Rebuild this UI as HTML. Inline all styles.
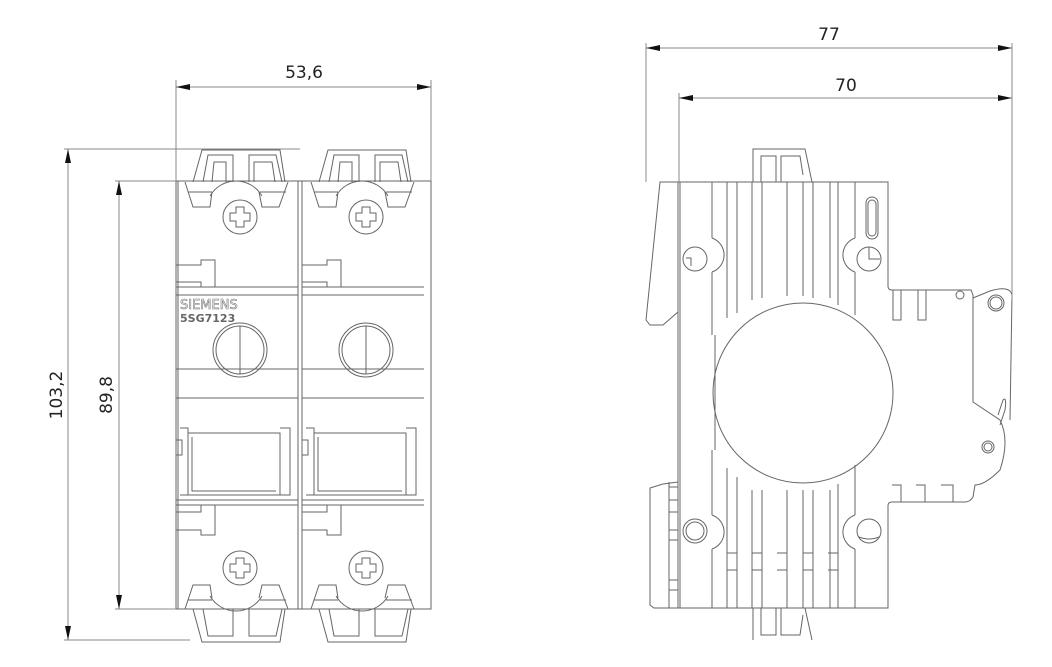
<!DOCTYPE html>
<html><head><meta charset="utf-8"><style>
html,body{margin:0;padding:0;background:#fff;}
svg{display:block;}
text{font-family:"DejaVu Sans","Liberation Sans",sans-serif;fill:#222;}
</style></head><body>
<svg width="1052" height="667" viewBox="0 0 1052 667" xmlns="http://www.w3.org/2000/svg">
<defs>
<marker id="a" viewBox="0 0 14 6" refX="14" refY="3" markerWidth="14" markerHeight="6" preserveAspectRatio="none" orient="auto-start-reverse" markerUnits="userSpaceOnUse"><path d="M0,0 L14,3 L0,6 z" fill="#111"/></marker>
<g id="mod" fill="none" stroke="#666" stroke-width="1">
  <path d="M17,182 L26,150 L104,150 L109,182"/>
  <path d="M27,182 L32,155 L57,155 L57,182 M73,182 L73,155 L100,155 L106,182"/>
  <path d="M36,182 L38,162 L50,162 L50,182 M78,182 L78,162 L96,162 L99,182"/>
  <path d="M9,182 L17,207 L34,207 L36,192 M83,192 L86,207 L103,207 L112,182"/>
  <path d="M34,196 A30,30 0 0 1 86,196"/>
  <path d="M12,192 L36,192 M84,192 L110,192"/>
  <circle cx="64" cy="217" r="17"/>
  <path d="M60,207 h8 v6 h6 v8 h-6 v6 h-8 v-6 h-6 v-8 h6 z"/>
  <path d="M0,265 h25 v-5 h14 v27 h-14 v-5 h-25"/>
  <path d="M0,287 H122 M0,295 H122 M0,369 H122 M0,398 H122"/>
  <circle cx="64" cy="350" r="27"/>
  <circle cx="64" cy="350" r="24"/>
  <path d="M64,326 V374"/>
  <path d="M4,428 h8 v67 h-8 M12,428 V495 M12,433 H104 V495 H12 M16,437 V491 H100 M104,428 h10 v67 h-10"/>
  <path d="M0,440 h6 v15 h-6"/>
  <path d="M0,500 H122 M0,505 H122"/>
  <path d="M0,512 h25 v-7 h14 v30 h-14 v-5 h-25"/>
  <circle cx="64" cy="568" r="17"/>
  <path d="M60,558 h8 v6 h6 v8 h-6 v6 h-8 v-6 h-6 v-8 h6 z"/>
  <path d="M9,609 L17,585 L34,585 L36,598 M83,598 L86,585 L103,585 L112,609"/>
  <path d="M34,596 A30,30 0 0 0 86,596"/>
  <path d="M12,600 L36,600 M84,600 L110,600"/>
  <path d="M17,609 L26,642 L104,642 L109,609"/>
  <path d="M27,609 L32,636 L57,636 L57,609 M73,609 L73,636 L100,636 L106,609"/>
</g>
</defs>

<g fill="none" stroke="#666" stroke-width="1">
  <rect x="176" y="181" width="255" height="428"/>
  <path d="M298,181 V609 M302,181 V609" />
  <path d="M178,181 V609"/>
</g>
<use href="#mod" x="176" y="0"/>
<use href="#mod" x="302" y="0"/>
<text x="180" y="309" font-size="13" fill="none" stroke="#777" stroke-width="0.6" style="fill:#fff">SIEMENS</text>
<text x="180" y="322" font-size="11" font-weight="bold" style="fill:#666">5SG7123</text>

<g stroke="#888" stroke-width="1" fill="none">
  <path d="M176,80 V181 M431,80 V181"/>
  <path d="M64,149 H300 M115,181 H176 M64,640 H190 M115,609 H176"/>
  <line x1="68" y1="149" x2="68" y2="640" marker-start="url(#a)" marker-end="url(#a)"/>
  <line x1="119" y1="181" x2="119" y2="609" marker-start="url(#a)" marker-end="url(#a)"/>
  <line x1="176" y1="87" x2="431" y2="87" marker-start="url(#a)" marker-end="url(#a)"/>
</g>
<text x="304" y="78" font-size="17" text-anchor="middle">53,6</text>
<text transform="translate(62,395) rotate(-90)" font-size="17" text-anchor="middle">103,2</text>
<text transform="translate(112,395) rotate(-90)" font-size="17" text-anchor="middle">89,8</text>

<g fill="none" stroke="#666" stroke-width="1">
  <path d="M678,182 H888 V286 Q888,290 892,290 H971 L973,295 V402 Q985,410 1000,420 Q1010,440 1000,470 Q985,485 975,485 L973,497 Q970,502 965,502 H892 Q888,502 888,506 V608 H678 Z"/>
  <path d="M973,298 L990,291 Q1010,285 1012,295 L1010,420"/>
  <circle cx="996" cy="303" r="8"/><circle cx="996" cy="303" r="6"/>
  <circle cx="960" cy="295" r="4"/>
  <path d="M998,415 L1003,400 Q1007,396 1005,410 L1000,425"/>
  <circle cx="988" cy="447" r="6"/><circle cx="988" cy="447" r="4"/>
  <path d="M678,182 H660 L646,320 L650,325 H663 L678,312"/>
  <path d="M678,482 L663,484 L650,488 V605 L654,608 H678"/>
  <path d="M669,482 V608"/>
  <path d="M669,487 h9 M669,500 h9 M669,512 h9 M669,530 h9 M669,540 h9 M669,580 h9 M669,590 h9"/>
  <path d="M680,182 V608 M712,182 V238 M712,272 V335 M712,450 V515 M712,549 V608"/>
  <path d="M712,238 A18,18 0 0 1 712,272 M712,515 A18,18 0 0 1 712,549"/>
  <path d="M855,182 V238 M855,272 V315 M855,465 V515 M855,549 V608"/>
  <path d="M855,238 A18,18 0 0 0 855,272 M855,515 A18,18 0 0 0 855,549"/>
  <path d="M715,335 V450"/>
  <path d="M727,182 V318 M727,468 V608 M737,182 V313 M737,477 V608"/>
  <path d="M752,182 V300 M762,182 V298 M752,490 V608 M762,490 V608"/>
  <path d="M787,182 V296 M803,182 V296 M787,490 V608 M803,490 V608"/>
  <path d="M813,182 V298 M830,182 V298 M813,490 V608 M830,490 V608"/>
  <path d="M838,182 V305 M838,484 V608"/>
  <circle cx="803" cy="393" r="90"/>
  <circle cx="695" cy="259" r="12"/><path d="M686,258 h5 v8"/>
  <circle cx="869" cy="259" r="12"/><path d="M869,247 V259 H880"/>
  <circle cx="695" cy="531" r="12"/><circle cx="695" cy="531" r="9"/>
  <circle cx="869" cy="531" r="12"/><path d="M859,537 Q869,541 879,537"/>
  <rect x="866" y="197" width="12" height="42" rx="6"/>
  <rect x="868" y="200" width="8" height="36" rx="4"/>
  <path d="M893,290 V320 h8 V290 M918,290 V320 h8 V290"/>
  <path d="M892,485 h9 v17 M916,485 h9 v17 M941,485 h12 v17"/>
  <path d="M753,182 V149 H805 L812,182 M761,182 V156 H776 V182 M781,182 V156 H800 L803,175"/>
  <path d="M753,608 V640 M805,608 L812,640 M761,608 V635 H776 V608 M781,608 V635 H800 L803,615"/>
  <path d="M727,553 h10 v17 h-10 M752,553 h10 v17 h-10 M777,553 h10 v17 h-10 M803,553 h10 v17 h-10 M828,553 h10 v17 h-10"/>
</g>
<g stroke="#888" stroke-width="1" fill="none">
  <path d="M646,43 V182 M679,93 V182 M1012,43 V300"/>
  <line x1="646" y1="48" x2="1012" y2="48" marker-start="url(#a)" marker-end="url(#a)"/>
  <line x1="679" y1="98" x2="1012" y2="98" marker-start="url(#a)" marker-end="url(#a)"/>
</g>
<text x="829" y="40" font-size="17" text-anchor="middle">77</text>
<text x="846" y="91" font-size="17" text-anchor="middle">70</text>
</svg>
</body></html>
